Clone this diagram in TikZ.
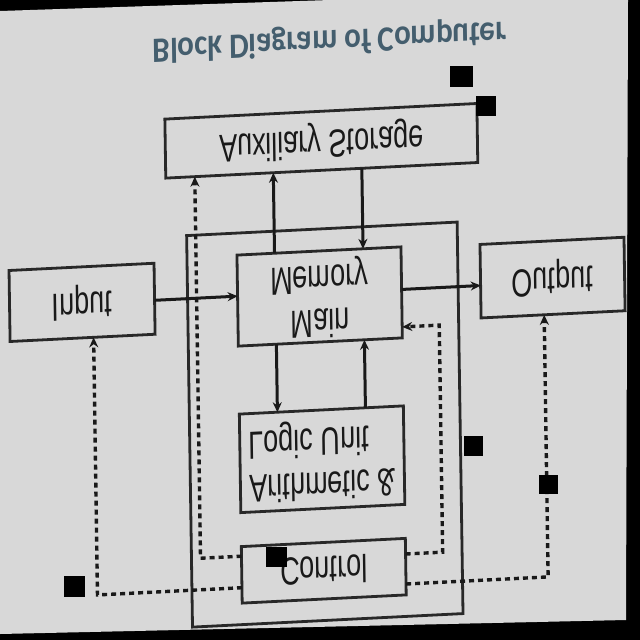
\documentclass[tikz,border=0pt]{standalone}
\usepackage{fontspec}
\setmainfont{Liberation Sans}
\newfontfamily\titlefont{Carlito}
\usetikzlibrary{arrows.meta}
\definecolor{paper}{RGB}{216,216,216}
\definecolor{ink}{RGB}{25,25,25}
\definecolor{boxline}{RGB}{40,40,40}
\definecolor{titleblue}{RGB}{68,94,110}
\tikzset{
  box/.style={draw=boxline, line width=2.8pt, inner sep=0pt, text=ink,
    font=\fontsize{27}{30}\selectfont},
  titlestyle/.style={inner sep=0pt, text=titleblue,
    font=\titlefont\bfseries\fontsize{31}{34}\selectfont},
  conn/.style={draw=ink, line width=3pt, -{Stealth[length=10pt,width=9pt]}},
  ctrlconn/.style={draw=ink, line width=3.4pt, dash pattern=on 5pt off 4pt,
    -{Stealth[length=10pt,width=9pt]}},
  noise/.style={fill=black}
}
\newcommand{\stretchtxt}[1]{\scalebox{1}[1.45]{#1}}
\begin{document}
\begin{tikzpicture}[x=1pt,y=1pt]
\useasboundingbox (0,0) rectangle (640,-640);
\fill[black] (0,0) rectangle (640,-640);
\fill[paper] (0,-11) -- (330,0) -- (628,0) -- (626,-620) -- (0,-634) -- cycle;
\begin{scope}[cm={1,0.05,0.015,-1,(-4.8,-16)}, every node/.style={transform shape}]
  % title
  \node[titlestyle] (title) at (334,41) {\scalebox{1}[1.15]{Block Diagram of Computer}};
  % boxes
  \node[box, minimum width=312pt, minimum height=59pt] (aux) at (324,141)
    {\stretchtxt{Auxiliary Storage}};
  \node[box, minimum width=270.5pt, minimum height=391.5pt] (cpu) at (323.25,424.75) {};
  \node[box, minimum width=145pt, minimum height=71pt] (input) at (82.5,290.5)
    {\stretchtxt{Input}};
  \node[box, minimum width=164pt, minimum height=91pt] (mem) at (320,296.5)
    {\stretchtxt{\begin{tabular}{@{}c@{}}Main\\Memory\end{tabular}}};
  \node[box, minimum width=144pt, minimum height=73.5pt] (out) at (553,289.25)
    {\stretchtxt{Output}};
  \node[box, minimum width=164pt, minimum height=98.5pt] (alu) at (320,459.25)
    {\stretchtxt{\begin{tabular}{@{}l@{}}Arithmetic \&\\Logic Unit\end{tabular}}};
  \node[box, minimum width=164pt, minimum height=56.5pt] (ctrl) at (320,570.75)
    {\stretchtxt{Control}};
  % connector end points on the box edges
  \coordinate (inE) at (155,292);
  \coordinate (memW) at (238,292);
  \coordinate (memE) at (402,293.5);
  \coordinate (outW) at (481,293.5);
  \coordinate (memNa) at (275.5,251);
  \coordinate (auxSa) at (275.5,170.5);
  \coordinate (auxSb) at (364,170.5);
  \coordinate (memNb) at (364,251);
  \coordinate (memSa) at (276,342);
  \coordinate (aluNa) at (276,410);
  \coordinate (aluNb) at (364,410);
  \coordinate (memSb) at (364,342);
  \coordinate (ctrlWa) at (238,552);
  \coordinate (bendA) at (197,552);
  \coordinate (auxSc) at (197,170.5);
  \coordinate (ctrlEa) at (402,558);
  \coordinate (bendB1) at (439,558);
  \coordinate (bendB2) at (439,331);
  \coordinate (memEb) at (402,331);
  \coordinate (ctrlWb) at (238,583.5);
  \coordinate (bendC) at (93.5,583.5);
  \coordinate (inS) at (93.5,326);
  \coordinate (ctrlEb) at (402,588);
  \coordinate (bendD) at (544,588);
  \coordinate (outS) at (544,326);
  % data flow
  \draw[conn] (inE) -- (memW);
  \draw[conn] (memE) -- (outW);
  \draw[conn] (memNa) -- (auxSa);
  \draw[conn] (auxSb) -- (memNb);
  \draw[conn] (memSa) -- (aluNa);
  \draw[conn] (aluNb) -- (memSb);
  % control signals
  \draw[ctrlconn] (ctrlWa) -- (bendA) -- (auxSc);
  \draw[ctrlconn] (ctrlEa) -- (bendB1) -- (bendB2) -- (memEb);
  \draw[ctrlconn] (ctrlWb) -- (bendC) -- (inS);
  \draw[ctrlconn] (ctrlEb) -- (bendD) -- (outS);
\end{scope}
% scanning blotches
\fill[noise] (450,-66) rectangle (473,-87);
\fill[noise] (476,-96) rectangle (496,-116);
\fill[noise] (464,-436) rectangle (483,-456);
\fill[noise] (539,-475) rectangle (558,-494);
\fill[noise] (266,-547) rectangle (287,-567);
\fill[noise] (64,-576) rectangle (85,-597);
\end{tikzpicture}
\end{document}
